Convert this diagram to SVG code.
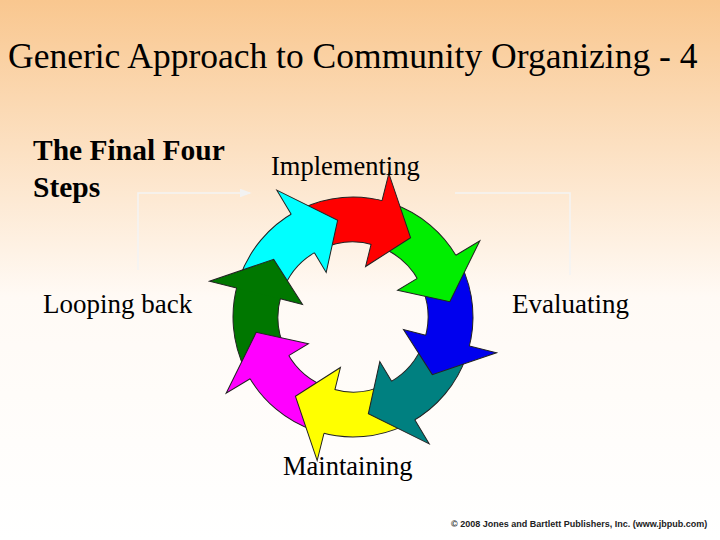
<svg xmlns="http://www.w3.org/2000/svg" width="720" height="540" viewBox="0 0 720 540">
<defs>
<linearGradient id="bg" x1="0" y1="0" x2="0" y2="1">
<stop offset="0" stop-color="#f9c78f"/><stop offset="0.55" stop-color="#fffaf5"/><stop offset="1" stop-color="#ffffff"/>
</linearGradient>
<path id="body" d="M56.34,-105.95 A120 120 0 0 1 112.76,-41.04 L70.48,-25.65 A75 75 0 0 0 35.21,-66.22 Z" stroke="#222" stroke-width="1"/>
<path id="head" d="M111.26,-44.95 L137.2,-55.4 L98,0 L48.2,-19.5 L69.54,-28.1" stroke="#222" stroke-width="1"/>
<marker id="ah" markerWidth="8" markerHeight="6" refX="7" refY="3" orient="auto"><path d="M0,0 L8,3 L0,6 Z" fill="#f2f2f2"/></marker>
</defs>
<style>
.t{font-family:"Liberation Serif",serif;fill:#000}
.ln{stroke:#f4f4f4;stroke-width:1.5;fill:none}
</style>
<rect width="720" height="540" fill="url(#bg)"/>
<text class="t" x="8" y="68" font-size="35.5">Generic Approach to Community Organizing - 4</text>
<g id="connectors">
<path class="ln" d="M138,270 V193 H250" marker-end="url(#ah)"/>
<path class="ln" d="M455,193 H570 V275"/>
</g>
<g id="cycle">
<use href="#body" fill="#ff0000" transform="translate(353,317) rotate(-54)"/>
<use href="#body" fill="#00ee00" transform="translate(353,317) rotate(-9)"/>
<use href="#body" fill="#0000ee" transform="translate(353,317) rotate(36)"/>
<use href="#body" fill="#008080" transform="translate(353,317) rotate(81)"/>
<use href="#body" fill="#ffff00" transform="translate(353,317) rotate(126)"/>
<use href="#body" fill="#ff00ff" transform="translate(353,317) rotate(171)"/>
<use href="#body" fill="#007700" transform="translate(353,317) rotate(216)"/>
<use href="#body" fill="#00ffff" transform="translate(353,317) rotate(261)"/>
<use href="#head" fill="#ff0000" transform="translate(353,317) rotate(-54)"/>
<use href="#head" fill="#00ee00" transform="translate(353,317) rotate(-9)"/>
<use href="#head" fill="#0000ee" transform="translate(353,317) rotate(36)"/>
<use href="#head" fill="#008080" transform="translate(353,317) rotate(81)"/>
<use href="#head" fill="#ffff00" transform="translate(353,317) rotate(126)"/>
<use href="#head" fill="#ff00ff" transform="translate(353,317) rotate(171)"/>
<use href="#head" fill="#007700" transform="translate(353,317) rotate(216)"/>
<use href="#head" fill="#00ffff" transform="translate(353,317) rotate(261)"/>
</g>
<g id="steps"><text class="t" x="33" y="160" font-size="29.5" font-weight="bold">The Final Four</text><text class="t" x="33" y="197" font-size="29.5" font-weight="bold">Steps</text></g>
<g id="implementing"><text class="t" x="271" y="175" font-size="26.5">Implementing</text></g>
<g id="looping"><text class="t" x="43" y="313" font-size="27">Looping back</text></g>
<g id="evaluating"><text class="t" x="512" y="313" font-size="27">Evaluating</text></g>
<g id="maintaining"><text class="t" x="283" y="475" font-size="26.5">Maintaining</text></g>
<text x="451" y="527" font-family="'Liberation Sans',sans-serif" font-size="9" font-weight="bold" fill="#222">© 2008 Jones and Bartlett Publishers, Inc. (www.jbpub.com)</text>
</svg>
